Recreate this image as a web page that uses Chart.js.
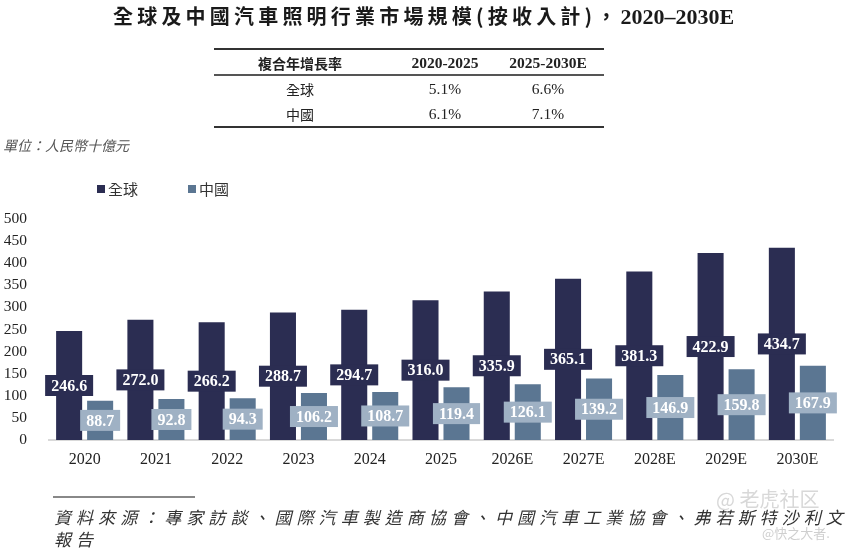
<!DOCTYPE html>
<html>
<head>
<meta charset="utf-8">
<script src="https://cdn.jsdelivr.net/npm/chart.js@4/dist/chart.umd.min.js"></script>
<style>
  html, body { margin: 0; padding: 0; background: #fff; }
  body { width: 854px; height: 551px; position: relative; overflow: hidden; font-family: "Noto Sans CJK TC", sans-serif; color: #222; }
  #chart { position: absolute; left: 0; top: 0; }
  .abs { position: absolute; white-space: nowrap; }
  .c { transform: translate(-50%, -50%); }
  .num { font-family: "Liberation Serif", serif; }
  .rule { position: absolute; left: 214px; width: 390px; background: #333; }
  .sq { position: absolute; width: 8px; height: 8px; }
</style>
</head>
<body>
<canvas id="chart" width="854" height="551"></canvas>

<div class="abs" style="left:113px; top:1px; font-size:20px; font-weight:bold; letter-spacing:4.2px; color:#1a1a1a;">全球及中國汽車照明行業市場規模(按收入計)，<span class="num" style="font-size:22px; letter-spacing:0;">2020–2030E</span></div>

<div class="rule" style="top:48px; height:2px;"></div>
<div class="rule" style="top:74px; height:1.5px; background:#555;"></div>
<div class="rule" style="top:126px; height:2px;"></div>
<div id="cagr"></div>

<div class="abs" style="left:3px; top:135px; font-size:14px; font-style:italic; color:#555;">單位：人民幣十億元</div>

<div class="sq" style="left:97px; top:185px; background:#2b2d52;"></div>
<div class="abs" style="left:108px; top:178px; font-size:15px; color:#333;">全球</div>
<div class="sq" style="left:188px; top:185px; background:#5b7692;"></div>
<div class="abs" style="left:199px; top:178px; font-size:15px; color:#333;">中國</div>

<div class="abs" style="left:53px; top:496px; width:142px; height:2px; background:#888;"></div>
<div class="abs" style="left:54px; top:506px; font-size:17px; font-style:italic; letter-spacing:5.05px; line-height:22px; color:#333;">資料來源：專家訪談、國際汽車製造商協會、中國汽車工業協會、弗若斯特沙利文<br>報告</div>

<div class="abs" style="left:716px; top:484px; font-size:20px; color:#d8d8d8;">@ 老虎社区</div>
<div class="abs" style="left:762px; top:523px; font-size:13px; color:#cfcfcf;">@快之大者.</div>

<script>
const years = ['2020', '2021', '2022', '2023', '2024', '2025', '2026E', '2027E', '2028E', '2029E', '2030E'];
const globalValues = [246.6, 272.0, 266.2, 288.7, 294.7, 316.0, 335.9, 365.1, 381.3, 422.9, 434.7];
const chinaValues = [88.7, 92.8, 94.3, 106.2, 108.7, 119.4, 126.1, 139.2, 146.9, 159.8, 167.9];

const cagrHeader = ['複合年增長率', '2020-2025', '2025-2030E'];
const cagrRows = [
  ['全球', '5.1%', '6.6%'],
  ['中國', '6.1%', '7.1%']
];

const GLOBAL_COLOR = '#2b2d52';
const CHINA_COLOR = '#5b7692';
const CHINA_BOX = '#9fb1c4';

// CAGR table
const cagrEl = document.getElementById('cagr');
const colX = [300, 445, 548];
const rowY = [63, 89, 114];
function cell(text, x, y, bold, serif) {
  const d = document.createElement('div');
  d.className = 'abs c' + (serif ? ' num' : '');
  d.style.left = x + 'px';
  d.style.top = y + 'px';
  d.style.fontSize = serif ? '15.5px' : '14px';
  if (bold) d.style.fontWeight = 'bold';
  d.textContent = text;
  cagrEl.appendChild(d);
}
cagrHeader.forEach((t, i) => cell(t, colX[i], rowY[0], true, i > 0));
cagrRows.forEach((row, r) => row.forEach((t, i) => cell(t, colX[i], rowY[r + 1], false, i > 0)));

// value boxes in the middle of each bar
const boxLabels = {
  id: 'boxLabels',
  afterDatasetsDraw(chart) {
    const ctx = chart.ctx;
    ctx.save();
    ctx.font = 'bold 16px "Liberation Serif", serif';
    ctx.textAlign = 'center';
    ctx.textBaseline = 'middle';
    chart.data.datasets.forEach((ds, di) => {
      const meta = chart.getDatasetMeta(di);
      meta.data.forEach((bar, i) => {
        const txt = ds.data[i].toFixed(1);
        const w = ctx.measureText(txt).width + 12;
        const h = 21;
        const cy = (bar.y + bar.base) / 2;
        ctx.fillStyle = ds.boxColor;
        ctx.fillRect(bar.x - w / 2, cy - h / 2, w, h);
        ctx.fillStyle = '#fff';
        ctx.fillText(txt, bar.x, cy + 1);
      });
    });
    ctx.restore();
  }
};

new Chart(document.getElementById('chart'), {
  type: 'bar',
  data: {
    labels: years,
    datasets: [
      { label: '全球', data: globalValues, backgroundColor: GLOBAL_COLOR, boxColor: GLOBAL_COLOR },
      { label: '中國', data: chinaValues, backgroundColor: CHINA_COLOR, boxColor: CHINA_BOX }
    ]
  },
  options: {
    responsive: false,
    animation: false,
    layout: { padding: { top: 219, left: 0, right: 21, bottom: 71 } },
    datasets: { bar: { categoryPercentage: 0.87, barPercentage: 0.84 } },
    plugins: { legend: { display: false }, tooltip: { enabled: false } },
    scales: {
      x: {
        afterFit: s => { s.height = 40; },
        grid: { display: false, drawTicks: false },
        border: { display: true, color: '#d9d9d9', width: 2 },
        ticks: { padding: 10, color: '#222', font: { family: '"Liberation Serif", serif', size: 16 } }
      },
      y: {
        min: 0,
        max: 500,
        afterFit: s => { s.width = 49; },
        grid: { display: false, drawTicks: false },
        border: { display: false },
        ticks: { stepSize: 50, autoSkip: false, padding: 22, color: '#222', font: { family: '"Liberation Serif", serif', size: 15.5 } }
      }
    }
  },
  plugins: [boxLabels]
});
</script>
</body>
</html>
